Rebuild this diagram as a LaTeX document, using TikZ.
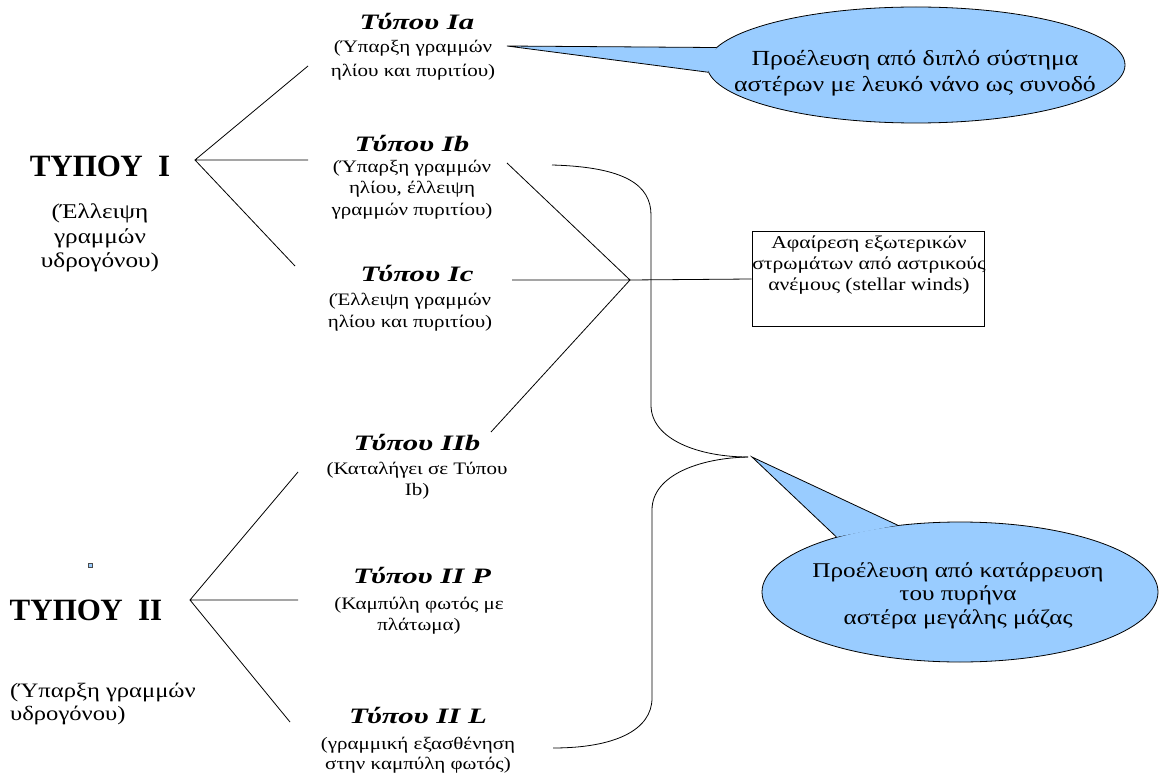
\documentclass[tikz,border=0pt]{standalone}
\usepackage{fontspec}
\setmainfont{Liberation Serif}[FakeStretch=1.2]
\newfontfamily\ttlfont{Liberation Serif}[FakeStretch=1.4]
\newfontfamily\bigfont{Liberation Serif}
\usetikzlibrary{shapes.geometric}
\definecolor{bubble}{RGB}{153,204,255}
\tikzset{
  ttl/.style={anchor=base,inner sep=0pt,font=\ttlfont\fontsize{22}{22}\selectfont\bfseries\itshape},
  dsc/.style={anchor=base,inner sep=0pt,align=center,font=\fontsize{17}{22}\selectfont},
  big/.style={anchor=base,inner sep=0pt,font=\bigfont\fontsize{31}{31}\selectfont\bfseries},
  bigdsc/.style={anchor=base,inner sep=0pt,align=center,font=\fontsize{21}{25}\selectfont},
  ln/.style={draw=black,line width=0.8pt},
  callout/.style={ellipse,draw=black,line width=0.8pt,fill=bubble,inner sep=0pt},
  ctext/.style={anchor=base,inner sep=0pt,align=center,font=\fontsize{21.5}{25}\selectfont},
}
\begin{document}
\begin{tikzpicture}[x=1pt,y=-1pt]
\useasboundingbox (0,0) rectangle (1162,778);
% left titles
\node[big] (t1) at (100,177) {ΤΥΠΟΥ\ \ Ι};
\node[bigdsc] (t1d) at (100,268) {(Έλλειψη\\γραμμών\\υδρογόνου)};
\node[big] (t2) at (86,620) {ΤΥΠΟΥ\ \ ΙΙ};
\node[bigdsc,align=left,anchor=base west,font=\fontsize{20.5}{23}\selectfont] (t2d) at (10,720) {(Ύπαρξη γραμμών\\υδρογόνου)};
\node[draw=black!70,fill=bubble,minimum size=4pt,inner sep=0pt,line width=0.5pt] (mk) at (90,565) {};
% subtypes
\node[ttl] (ia) at (417,30) {Τύπου Ia};
\node[dsc,font=\fontsize{17.5}{24}\selectfont] (iad) at (413,77) {(Ύπαρξη γραμμών\\ηλίου και πυριτίου)};
\node[ttl] (ib) at (412,152) {Τύπου Ib};
\node[dsc,font=\fontsize{17.5}{21.5}\selectfont] (ibd) at (412,215) {(Ύπαρξη γραμμών\\ηλίου, έλλειψη\\γραμμών πυριτίου)};
\node[ttl] (ic) at (417,281) {Τύπου Ic};
\node[dsc,font=\fontsize{17.5}{22}\selectfont] (icd) at (410,327) {(Έλλειψη γραμμών\\ηλίου και πυριτίου)};
\node[ttl] (iib) at (417,450) {Τύπου IIb};
\node[dsc,font=\fontsize{17.5}{21}\selectfont] (iibd) at (417,495) {(Καταλήγει σε Τύπου\\Ib)};
\node[ttl] (iip) at (422,583) {Τύπου II P};
\node[dsc,font=\fontsize{17.5}{21}\selectfont] (iipd) at (419,630) {(Καμπύλη φωτός με\\πλάτωμα)};
\node[ttl] (iil) at (418,723) {Τύπου II L};
\node[dsc,font=\fontsize{17.5}{20}\selectfont] (iild) at (418,769) {(γραμμική εξασθένηση\\στην καμπύλη φωτός)};
% fan lines type I
\coordinate (a1) at (195,160);
\coordinate (e1a) at (308,66);
\coordinate (e1b) at (308,160);
\coordinate (e1c) at (295,266);
\draw[ln] (e1a) -- (a1) -- (e1c) (a1) -- (e1b);
% fan lines type II
\coordinate (a2) at (190,600);
\coordinate (e2a) at (298,472);
\coordinate (e2b) at (298,600);
\coordinate (e2c) at (290,722);
\draw[ln] (e2a) -- (a2) -- (e2c) (a2) -- (e2b);
% junction
\coordinate (j) at (630,280);
\coordinate (jb) at (507,163);
\coordinate (jc) at (512,280);
\coordinate (jd) at (491,432);
\draw[ln] (jb) -- (j) -- (jd) (jc) -- (j);
% box
\node[draw=black,line width=0.8pt,minimum width=232pt,minimum height=95pt,inner sep=0pt] (box) at (868,279) {};
\node[dsc,font=\fontsize{18}{21}\selectfont] (boxt) at (869,290) {Αφαίρεση εξωτερικών\\στρωμάτων από αστρικούς\\ανέμους (stellar winds)};
\draw[ln] (j) -- (box.west);
% braces
\coordinate (bs) at (552,165);
\coordinate (bm) at (748,457);
\coordinate (be) at (553,748);
\draw[ln] (bs) .. controls (625,167) and (651,185) .. (651,215) -- (651,405)
  .. controls (651,440) and (700,457) .. (bm);
\draw[ln] (bm) .. controls (700,458) and (652,475) .. (652,510) -- (652,698)
  .. controls (652,730) and (615,748) .. (be);
% top callout
\node[callout,minimum width=418pt,minimum height=116pt] (c1) at (916,65) {};
\coordinate (c1tip) at (507,46);
\fill[bubble] (c1.175) -- (c1tip) -- (c1.182) -- cycle;
\draw[ln] (c1.175) -- (c1tip) -- (c1.182);
\node[ctext,font=\fontsize{21.5}{26}\selectfont] (c1t) at (915,92) {Προέλευση από διπλό σύστημα\\αστέρων με λευκό νάνο ως συνοδό};
% bottom callout
\node[callout,minimum width=396pt,minimum height=140pt] (c2) at (960,592) {};
\coordinate (c2tip) at (752,457);
\fill[bubble] (c2.133) -- (c2tip) -- (c2.156) -- cycle;
\draw[ln] (c2.133) -- (c2tip) -- (c2.156);
\node[ctext,font=\fontsize{21}{23.5}\selectfont] (c2t) at (958,624) {Προέλευση από κατάρρευση\\του πυρήνα\\αστέρα μεγάλης μάζας};
\end{tikzpicture}
\end{document}
